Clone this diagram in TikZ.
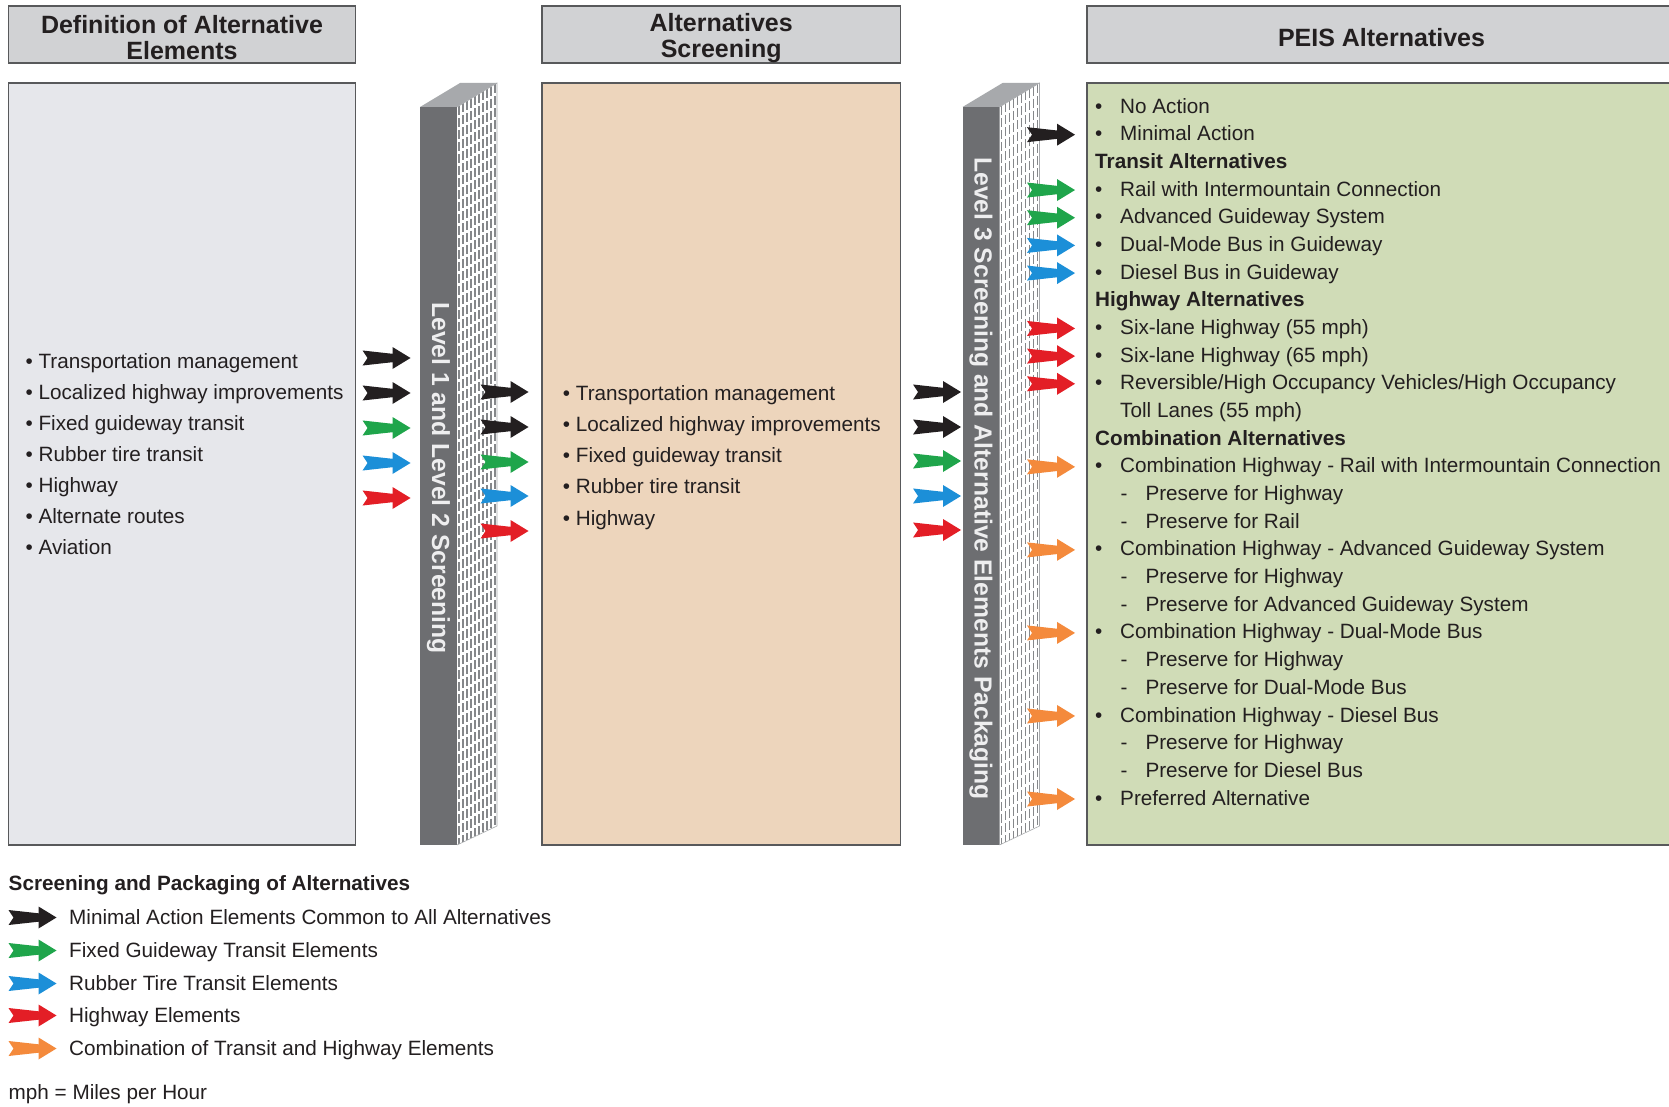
\documentclass[tikz,border=0pt]{standalone}
\usepackage{fontspec}
\setmainfont{Liberation Sans}
\definecolor{txtc}{HTML}{231F20}
\definecolor{hdrfill}{HTML}{D1D2D4}
\definecolor{p1fill}{HTML}{E6E7EB}
\definecolor{p2fill}{HTML}{EDD5BC}
\definecolor{p3fill}{HTML}{D0DCB7}
\definecolor{bord}{HTML}{58595B}
\definecolor{pfront}{HTML}{6D6E71}
\definecolor{ptop}{HTML}{A7A9AC}
\definecolor{pgrid}{HTML}{85878A}
\definecolor{ptext}{HTML}{EEEEEF}
\definecolor{ablack}{HTML}{231F20}
\definecolor{agreen}{HTML}{1FA54B}
\definecolor{ablue}{HTML}{1C8FD8}
\definecolor{ared}{HTML}{E31E26}
\definecolor{aorange}{HTML}{F48A3C}
\newcommand\mypillar[1]{%
  \fill[pfront] (#1,107) rectangle ({#1+37},845);
  \fill[ptop] (#1,107) -- ({#1+37},107) -- ({#1+77},83) -- ({#1+40},83) -- cycle;
  \fill[white] ({#1+37},107) -- ({#1+77},83) -- ({#1+77},826) -- ({#1+37},845) -- cycle;
  \begin{scope}
    \clip ({#1+37},107) -- ({#1+77},83) -- ({#1+77},826) -- ({#1+37},845) -- cycle;
    \foreach \i in {0,...,9}{
      \draw[pgrid, line width=1.8, dash pattern=on 9pt off 3pt] ({#1+39+4*\i},{107-24*(2+4*\i)/40}) -- ({#1+39+4*\i},{845-19*(2+4*\i)/40});
    }
  \end{scope}
  \draw[ptop, line width=0.6] ({#1+37},107) -- ({#1+77},83) -- ({#1+77},826) -- ({#1+37},845);
}
\newcommand\Lb[3]{\node[txt] (#1) at (1095,{110.4+27.68*#2}) {\makebox[25pt][l]{•}#3};}
\newcommand\Lh[3]{\node[txt,font=\fontsize{20.7}{24}\selectfont\bfseries] (#1) at (1095,{110.4+27.68*#2}) {#3};}
\newcommand\Ld[3]{\node[txt] (#1) at (1120.5,{110.4+27.68*#2}) {\makebox[24.8pt][l]{-}#3};}
\newcommand\Lc[3]{\node[txt] (#1) at (1120,{110.4+27.68*#2}) {#3};}
\begin{document}
\begin{tikzpicture}[x=1pt,y=-1pt,
  txt/.style={font=\fontsize{20.7}{24}\selectfont, text=txtc, inner sep=0pt, anchor=mid west},
  hdr/.style={draw=bord, line width=1.8, fill=hdrfill, align=center, text=txtc, inner sep=0pt,
    font=\fontsize{25}{26}\selectfont\bfseries},
  hdrtxt/.style={align=center, text=txtc, inner sep=0pt, font=\fontsize{25}{26}\selectfont\bfseries},
  panel/.style={draw=bord, line width=1.8, inner sep=0pt},
  ptxt/.style={font=\fontsize{24.7}{28}\selectfont\bfseries, text=ptext, inner sep=0pt},
  pics/barrow/.style={code={\fill[#1] (0,-7.5) -- (30,-4.2) -- (30,-11) -- (48,0) -- (30,11) -- (30,4.2) -- (0,7.5) -- (5,0) -- cycle;}}
]
\useasboundingbox (0,0) rectangle (1669,1107);
\fill[white] (0,0) rectangle (1669,1107);
\begin{scope}
\clip (0,0) rectangle (1669,1107);
% headers
\node[hdr, minimum width=347, minimum height=56.7] (h1) at (182,34.7) {};
\node[hdr, minimum width=358.5, minimum height=56.7] (h2) at (721.2,34.7) {};
\node[hdr, minimum width=591, minimum height=56.7] (h3) at (1382.5,34.7) {};
% panels
\node[panel, fill=p1fill, minimum width=347, minimum height=762] (pan1) at (182,464) {};
\node[panel, fill=p2fill, minimum width=358.5, minimum height=762] (pan2) at (721.2,464) {};
\node[panel, fill=p3fill, minimum width=591, minimum height=762] (pan3) at (1382.5,464) {};
\end{scope}
\node[hdrtxt] (h1t) at (182,38) {Definition of Alternative\\Elements};
\node[hdrtxt] (h2t) at (721.2,38) {Alternatives\\Screening};
\node[hdrtxt] (h3t) at (1381.5,37.5) {PEIS Alternatives};
% pillars
\mypillar{420}
\mypillar{962.5}
\node[ptxt, rotate=-90] (s12) at (438.5,478) {Level 1 and Level 2 Screening};
\node[ptxt, rotate=-90] (s3) at (981,478.5) {Level 3 Screening and Alternative Elements Packaging};
% panel 1 text
\node[txt] (a1) at (25.4,366) {• Transportation management};
\node[txt] (a2) at (25.4,397) {• Localized highway improvements};
\node[txt] (a3) at (25.4,427.5) {• Fixed guideway transit};
\node[txt] (a4) at (25.4,458.5) {• Rubber tire transit};
\node[txt] (a5) at (25.4,490) {• Highway};
\node[txt] (a6) at (25.4,521) {• Alternate routes};
\node[txt] (a7) at (25.4,552) {• Aviation};
% panel 2 text
\node[txt] (b1) at (562.7,398) {• Transportation management};
\node[txt] (b2) at (562.7,429) {• Localized highway improvements};
\node[txt] (b3) at (562.7,459.5) {• Fixed guideway transit};
\node[txt] (b4) at (562.7,491) {• Rubber tire transit};
\node[txt] (b5) at (562.7,523) {• Highway};
% panel 3 text
\Lb{c0}{0}{No Action}
\Lb{c1}{1}{Minimal Action}
\Lh{c2}{2}{Transit Alternatives}
\Lb{c3}{3}{Rail with Intermountain Connection}
\Lb{c4}{4}{Advanced Guideway System}
\Lb{c5}{5}{Dual-Mode Bus in Guideway}
\Lb{c6}{6}{Diesel Bus in Guideway}
\Lh{c7}{7}{Highway Alternatives}
\Lb{c8}{8}{Six-lane Highway (55 mph)}
\Lb{c9}{9}{Six-lane Highway (65 mph)}
\Lb{c10}{10}{Reversible/High Occupancy Vehicles/High Occupancy}
\Lc{c11}{11}{Toll Lanes (55 mph)}
\Lh{c12}{12}{Combination Alternatives}
\Lb{c13}{13}{Combination Highway - Rail with Intermountain Connection}
\Ld{c14}{14}{Preserve for Highway}
\Ld{c15}{15}{Preserve for Rail}
\Lb{c16}{16}{Combination Highway - Advanced Guideway System}
\Ld{c17}{17}{Preserve for Highway}
\Ld{c18}{18}{Preserve for Advanced Guideway System}
\Lb{c19}{19}{Combination Highway - Dual-Mode Bus}
\Ld{c20}{20}{Preserve for Highway}
\Ld{c21}{21}{Preserve for Dual-Mode Bus}
\Lb{c22}{22}{Combination Highway - Diesel Bus}
\Ld{c23}{23}{Preserve for Highway}
\Ld{c24}{24}{Preserve for Diesel Bus}
\Lb{c25}{25}{Preferred Alternative}
% arrows panel1 -> pillar1
\foreach \yy/\cc [count=\k] in {358/ablack,393/ablack,428/agreen,463/ablue,498/ared}{
  \coordinate (q1\k) at (362.5,\yy);
  \pic at (q1\k) {barrow=\cc};
}
% arrows pillar1 -> panel2
\foreach \yy/\cc [count=\k] in {392/ablack,427/ablack,462/agreen,496/ablue,531/ared}{
  \coordinate (q2\k) at (480.5,\yy);
  \pic at (q2\k) {barrow=\cc};
}
% arrows panel2 -> pillar2
\foreach \yy/\cc [count=\k] in {392/ablack,427/ablack,461/agreen,496/ablue,530/ared}{
  \coordinate (q3\k) at (913,\yy);
  \pic at (q3\k) {barrow=\cc};
}
% arrows pillar2 -> panel3
\foreach \ll/\cc [count=\k] in {1/ablack,3/agreen,4/agreen,5/ablue,6/ablue,8/ared,9/ared,10/ared,13/aorange,16/aorange,19/aorange,22/aorange,25/aorange}{
  \coordinate (q4\k) at (1027,{107+27.68*\ll});
  \pic at (q4\k) {barrow=\cc};
}
% legend
\node[txt, font=\fontsize{20.7}{24}\selectfont\bfseries] (lt) at (8.5,888) {Screening and Packaging of Alternatives};
\foreach \yy/\cc/\tt [count=\k] in {917.5/ablack/Minimal Action Elements Common to All Alternatives,
  950.5/agreen/Fixed Guideway Transit Elements,
  983.5/ablue/Rubber Tire Transit Elements,
  1015.5/ared/Highway Elements,
  1048.5/aorange/Combination of Transit and Highway Elements}{
  \coordinate (lg\k) at (8.5,\yy);
  \pic at (lg\k) {barrow=\cc};
  \node[txt] (lx\k) at (69,\yy+4) {\tt};
}
\node[txt] (mph) at (8.5,1097) {mph = Miles per Hour};
\end{tikzpicture}
\end{document}
